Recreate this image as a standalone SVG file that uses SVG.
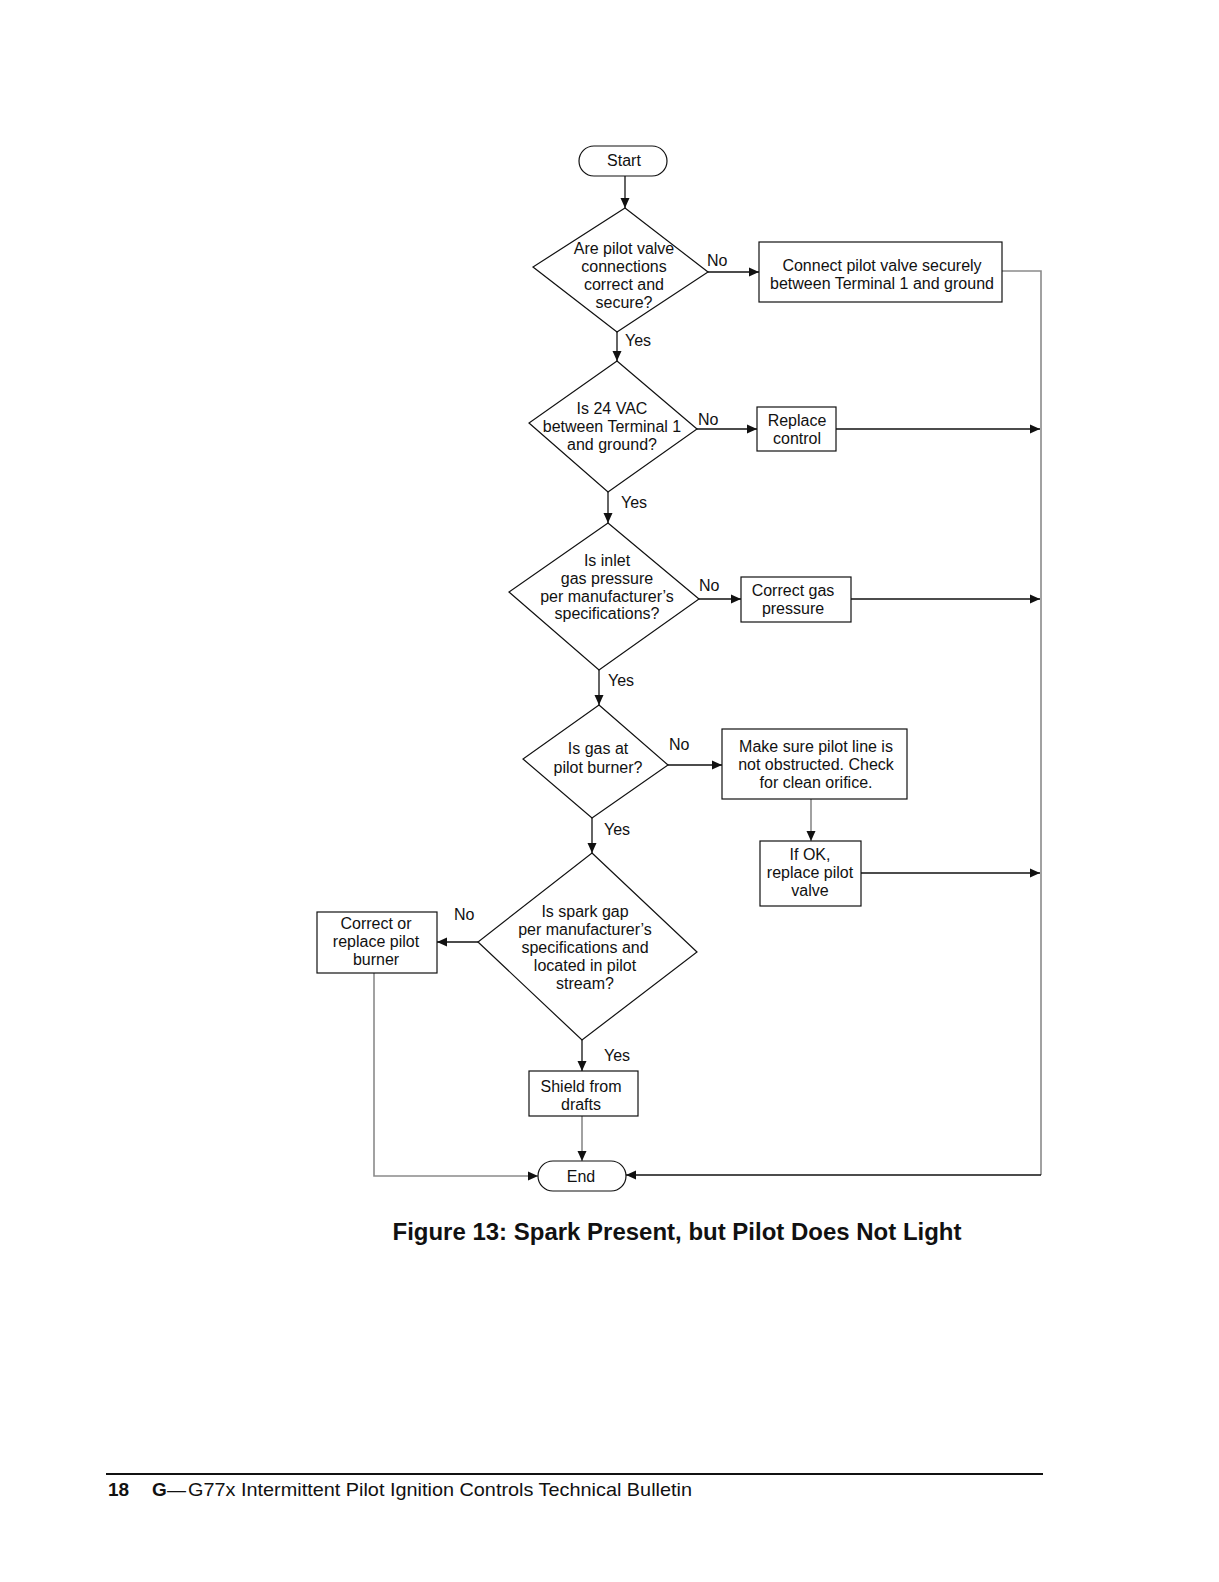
<svg xmlns="http://www.w3.org/2000/svg" width="1219" height="1582" viewBox="0 0 1219 1582">
<defs>
<marker id="ah" markerUnits="userSpaceOnUse" markerWidth="12" markerHeight="10" refX="10" refY="5" orient="auto">
<path d="M0,0.5 L10,5 L0,9.5 Z" fill="#111"/>
</marker>
<style>
text{font-family:"Liberation Sans",Arial,sans-serif;font-size:16px;fill:#111;text-anchor:middle}
.nd{fill:#fff;stroke:#111;stroke-width:1.2}
.c{fill:none;stroke:#111;stroke-width:1.3}
.g{fill:none;stroke:#8a8a8a;stroke-width:1.6}
.lbl{text-anchor:start}
</style>
</defs>
<rect width="1219" height="1582" fill="#fff"/>
<g id="connectors">
<line class="c" x1="625" y1="176" x2="625" y2="208" marker-end="url(#ah)"/>
<line class="c" x1="708" y1="272" x2="759" y2="272" marker-end="url(#ah)"/>
<line class="c" x1="617" y1="332" x2="617" y2="361" marker-end="url(#ah)"/>
<polyline class="g" points="1002,271 1041,271 1041,1175"/>
<line class="c" x1="1041" y1="1175" x2="626" y2="1175" marker-end="url(#ah)"/>
<line class="c" x1="697" y1="429" x2="757" y2="429" marker-end="url(#ah)"/>
<line class="c" x1="836" y1="429" x2="1040" y2="429" marker-end="url(#ah)"/>
<line class="c" x1="608" y1="492" x2="608" y2="523" marker-end="url(#ah)"/>
<line class="c" x1="699" y1="599" x2="741" y2="599" marker-end="url(#ah)"/>
<line class="c" x1="851" y1="599" x2="1040" y2="599" marker-end="url(#ah)"/>
<line class="c" x1="599" y1="670" x2="599" y2="705" marker-end="url(#ah)"/>
<line class="c" x1="668" y1="765" x2="722" y2="765" marker-end="url(#ah)"/>
<line class="g" x1="811" y1="799" x2="811" y2="841" marker-end="url(#ah)"/>
<line class="c" x1="861" y1="873" x2="1040" y2="873" marker-end="url(#ah)"/>
<line class="c" x1="592" y1="818" x2="592" y2="853" marker-end="url(#ah)"/>
<line class="c" x1="478" y1="942" x2="437" y2="942" marker-end="url(#ah)"/>
<polyline class="g" points="374,973 374,1176 538,1176" marker-end="url(#ah)"/>
<line class="c" x1="582" y1="1040" x2="582" y2="1071" marker-end="url(#ah)"/>
<line class="g" x1="582" y1="1116" x2="582" y2="1161" marker-end="url(#ah)"/>
<text class="lbl" x="707" y="266">No</text>
<text class="lbl" x="625" y="346">Yes</text>
<text class="lbl" x="698" y="425">No</text>
<text class="lbl" x="621" y="508">Yes</text>
<text class="lbl" x="699" y="591">No</text>
<text class="lbl" x="608" y="686">Yes</text>
<text class="lbl" x="669" y="750">No</text>
<text class="lbl" x="604" y="835">Yes</text>
<text class="lbl" x="454" y="920">No</text>
<text class="lbl" x="604" y="1061">Yes</text>
</g>
<g id="start">
<rect class="nd" x="579" y="146" width="88" height="30" rx="15"/>
<text x="624" y="166">Start</text>
</g>
<g id="q1">
<polygon class="nd" points="625,208 708,272 617,332 533,267"/>
<text x="624" y="254">Are pilot valve</text>
<text x="624" y="272">connections</text>
<text x="624" y="290">correct and</text>
<text x="624" y="308">secure?</text>
</g>
<g id="connect">
<rect class="nd" x="759" y="242" width="243" height="60"/>
<text x="882" y="271">Connect pilot valve securely</text>
<text x="882" y="289">between Terminal 1 and ground</text>
</g>
<g id="q2">
<polygon class="nd" points="617,361 697,429 608,492 529,423"/>
<text x="612" y="414">Is 24 VAC</text>
<text x="612" y="432">between Terminal 1</text>
<text x="612" y="450">and ground?</text>
</g>
<g id="replace">
<rect class="nd" x="757" y="407" width="79" height="44"/>
<text x="797" y="426">Replace</text>
<text x="797" y="444">control</text>
</g>
<g id="q3">
<polygon class="nd" points="608,523 699,599 599,670 509,592"/>
<text x="607" y="566">Is inlet</text>
<text x="607" y="584">gas pressure</text>
<text x="607" y="602">per manufacturer’s</text>
<text x="607" y="619">specifications?</text>
</g>
<g id="gaspressure">
<rect class="nd" x="741" y="577" width="110" height="45"/>
<text x="793" y="596">Correct gas</text>
<text x="793" y="614">pressure</text>
</g>
<g id="q4">
<polygon class="nd" points="599,705 668,765 592,818 523,759"/>
<text x="598" y="754">Is gas at</text>
<text x="598" y="773">pilot burner?</text>
</g>
<g id="makesure">
<rect class="nd" x="722" y="729" width="185" height="70"/>
<text x="816" y="752">Make sure pilot line is</text>
<text x="816" y="770">not obstructed. Check</text>
<text x="816" y="788">for clean orifice.</text>
</g>
<g id="ifok">
<rect class="nd" x="760" y="841" width="101" height="65"/>
<text x="810" y="860">If OK,</text>
<text x="810" y="878">replace pilot</text>
<text x="810" y="896">valve</text>
</g>
<g id="q5">
<polygon class="nd" points="592,853 697,952 582,1040 478,942"/>
<text x="585" y="917">Is spark gap</text>
<text x="585" y="935">per manufacturer’s</text>
<text x="585" y="953">specifications and</text>
<text x="585" y="971">located in pilot</text>
<text x="585" y="989">stream?</text>
</g>
<g id="correctburner">
<rect class="nd" x="317" y="912" width="120" height="61"/>
<text x="376" y="929">Correct or</text>
<text x="376" y="947">replace pilot</text>
<text x="376" y="965">burner</text>
</g>
<g id="shield">
<rect class="nd" x="529" y="1071" width="109" height="45"/>
<text x="581" y="1092">Shield from</text>
<text x="581" y="1110">drafts</text>
</g>
<g id="end">
<rect class="nd" x="538" y="1161" width="88" height="30" rx="15"/>
<text x="581" y="1182">End</text>
</g>
<text x="677" y="1240" style="font-size:24px;font-weight:bold" textLength="569" lengthAdjust="spacingAndGlyphs">Figure 13: Spark Present, but Pilot Does Not Light</text>
<line x1="106" y1="1474" x2="1043" y2="1474" stroke="#111" stroke-width="2"/>
<text x="108" y="1496" style="font-size:19px;font-weight:bold;text-anchor:start">18</text>
<text x="152" y="1496" style="font-size:19px;font-weight:bold;text-anchor:start">G</text>
<text x="167" y="1496" style="font-size:19px;text-anchor:start">—</text>
<text x="188" y="1496" style="font-size:19px;text-anchor:start" textLength="504" lengthAdjust="spacingAndGlyphs">G77x Intermittent Pilot Ignition Controls Technical Bulletin</text>
</svg>
